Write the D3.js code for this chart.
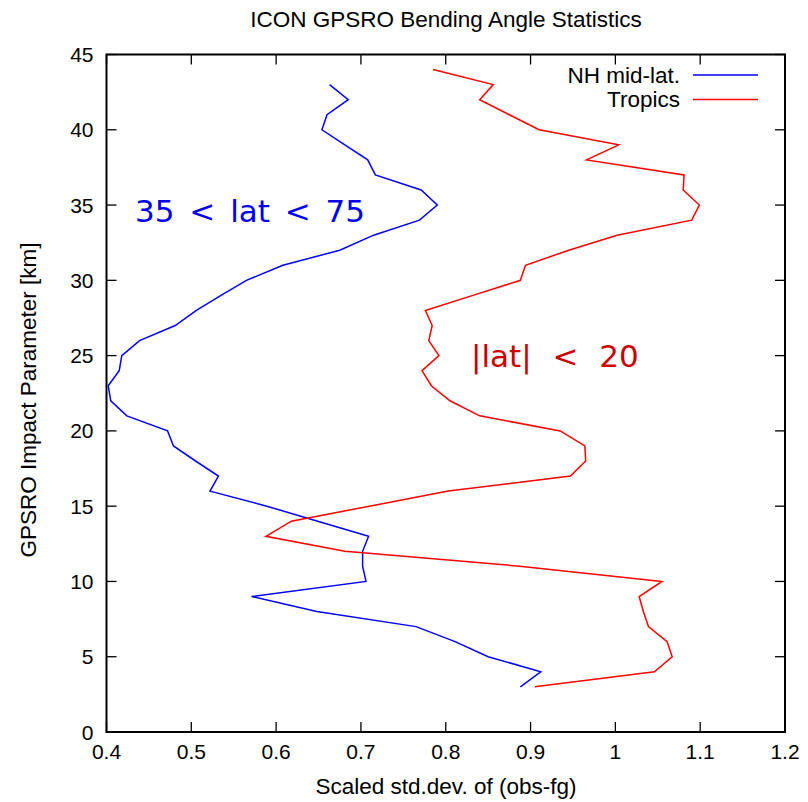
<!DOCTYPE html>
<html><head><meta charset="utf-8">
<script src="https://cdn.jsdelivr.net/npm/d3@7"></script>
<style>body{margin:0;background:#fff}</style>
</head><body>
<svg id="c" width="808" height="802"></svg>
<script>
const nhHeights = [3,4,5,6,7,8,9,10,11,12,13,14,15,16,17,18,19,20,21,22,23,24,25,26,27,28,29,30,31,32,33,34,35,36,37,38,39,40,41,42,43];
const nhValues  = [0.888,0.912,0.850,0.811,0.765,0.648,0.571,0.706,0.702,0.702,0.709,0.649,0.589,0.522,0.532,0.505,0.479,0.472,0.424,0.405,0.402,0.415,0.418,0.439,0.481,0.506,0.535,0.565,0.608,0.675,0.715,0.769,0.790,0.771,0.717,0.708,0.681,0.654,0.660,0.685,0.663];
const trHeights = [3,4,5,6,7,8,9,10,11,12,13,14,15,16,17,18,19,20,21,22,23,24,25,26,27,28,29,30,31,32,33,34,35,36,37,38,39,40,41,42,43,44];
const trValues  = [0.905,1.046,1.067,1.061,1.039,1.033,1.028,1.055,0.890,0.681,0.588,0.618,0.710,0.803,0.947,0.965,0.964,0.935,0.840,0.805,0.783,0.772,0.792,0.780,0.784,0.776,0.832,0.888,0.894,0.945,1.002,1.090,1.099,1.080,1.081,0.966,1.004,0.910,0.875,0.840,0.856,0.785];
const xTicks = [0.4,0.5,0.6,0.7,0.8,0.9,1,1.1,1.2];
const yTicks = [0,5,10,15,20,25,30,35,40,45];
const seriesNames = ["NH mid-lat.","Tropics"];
const seriesColors = ["#0000ff","#ff0000"];

const svg = d3.select("#c");
const L=106.5, R=785, T=54.5, B=732;
const x = d3.scaleLinear().domain([0.4,1.2]).range([L,R]);
const y = d3.scaleLinear().domain([0,45]).range([B,T]);
const font = "'Liberation Sans', Arial, sans-serif";
const fs = 21, fsl = 22.5;

// ticks (inside, mirrored)
const tg = svg.append("g").attr("stroke","#000").attr("stroke-width",1.3);
xTicks.forEach(v=>{
  tg.append("line").attr("x1",x(v)).attr("x2",x(v)).attr("y1",B).attr("y2",B-10);
  tg.append("line").attr("x1",x(v)).attr("x2",x(v)).attr("y1",T).attr("y2",T+10);
});
yTicks.forEach(v=>{
  tg.append("line").attr("y1",y(v)).attr("y2",y(v)).attr("x1",L).attr("x2",L+10);
  tg.append("line").attr("y1",y(v)).attr("y2",y(v)).attr("x1",R).attr("x2",R-10);
});

// tick labels
svg.append("g").selectAll("text").data(xTicks).join("text")
  .attr("x",d=>x(d)).attr("y",B+27).attr("text-anchor","middle")
  .attr("font-family",font).attr("font-size",fs).text(d=>d3.format("")(d));
svg.append("g").selectAll("text").data(yTicks).join("text")
  .attr("x",L-13).attr("y",d=>y(d)+7.5).attr("text-anchor","end")
  .attr("font-family",font).attr("font-size",fs).text(d=>d);

// lines
const line = d3.line();
const nh = nhHeights.map((h,i)=>[x(nhValues[i]),y(h)]);
const tr = trHeights.map((h,i)=>[x(trValues[i]),y(h)]);
svg.append("path").attr("d",line(nh)).attr("fill","none").attr("stroke",seriesColors[0]).attr("stroke-width",1.5);
svg.append("path").attr("d",line(tr)).attr("fill","none").attr("stroke",seriesColors[1]).attr("stroke-width",1.5);

// frame
svg.append("rect").attr("x",L).attr("y",T).attr("width",R-L).attr("height",B-T)
  .attr("fill","none").attr("stroke","#000").attr("stroke-width",2);

// legend
seriesNames.forEach((n,i)=>{
  const ly = 75 + i*24.5;
  svg.append("text").attr("x",680).attr("y",ly+7.5).attr("text-anchor","end")
    .attr("font-family",font).attr("font-size",fsl).text(n);
  svg.append("line").attr("x1",693).attr("x2",758).attr("y1",ly).attr("y2",ly)
    .attr("stroke",seriesColors[i]).attr("stroke-width",1.5);
});

// title and axis labels
svg.append("text").attr("x",446).attr("y",27).attr("text-anchor","middle")
  .attr("font-family",font).attr("font-size",fsl).text("ICON GPSRO Bending Angle Statistics");
svg.append("text").attr("x",446).attr("y",794).attr("text-anchor","middle")
  .attr("font-family",font).attr("font-size",fsl).text("Scaled std.dev. of (obs-fg)");
svg.append("text").attr("transform","translate(36,400) rotate(-90)").attr("text-anchor","middle")
  .attr("font-family",font).attr("font-size",fsl).text("GPSRO Impact Parameter [km]");

// annotations
svg.append("text").attr("x",135).attr("y",222).attr("font-family","'DejaVu Sans', sans-serif")
  .attr("font-size",31).attr("word-spacing",5).attr("fill","#0000ee").text("35 < lat < 75");
svg.append("text").attr("x",471).attr("y",367).attr("font-family","'DejaVu Sans', sans-serif")
  .attr("font-size",31).attr("word-spacing",11).attr("fill","#cc0000").text("|lat| < 20");
</script>
</body></html>
